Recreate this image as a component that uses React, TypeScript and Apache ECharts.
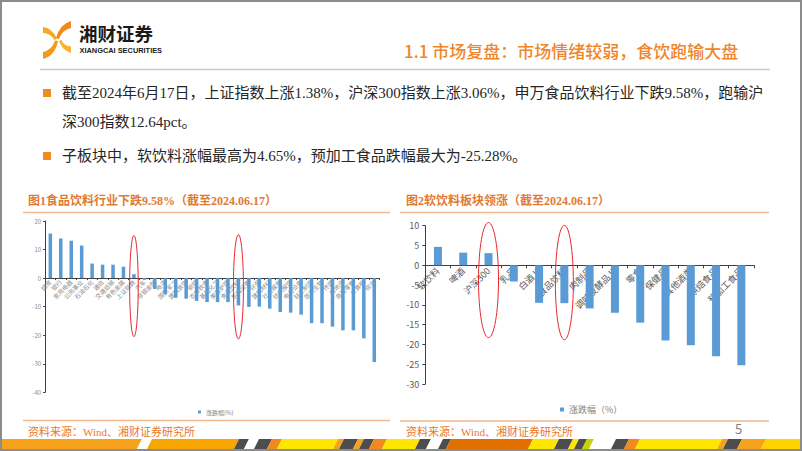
import React, { useEffect, useRef } from "react";
import * as echarts from "echarts";

// ---------- data ----------
const industryNames = [
  "煤炭", "银行", "家用电器", "公用事业", "石油石化", "通信", "交通运输", "有色金属",
  "上证指数", "汽车", "非银金融", "电子", "国防军工", "建筑装饰", "钢铁", "农林牧渔",
  "基础化工", "美容护理", "食品饮料", "机械设备", "环保", "建筑材料", "社会服务", "纺织服饰",
  "电力设备", "轻工制造", "医药生物", "传媒", "房地产", "商贸零售", "计算机", "综合",
];
const industryValues = [
  15.6, 13.9, 13.1, 11.4, 5.1, 4.7, 4.7, 4.0,
  1.38, -0.6, -3.8, -5.7, -6.9, -7.2, -8.0, -8.4,
  -8.4, -8.4, -9.58, -10.1, -10.0, -10.7, -11.9, -12.1,
  -12.8, -15.8, -15.8, -17.0, -18.3, -18.3, -21.1, -29.4,
];
const subNames = [
  "软饮料", "啤酒", "沪深300", "乳品", "白酒Ⅱ", "食品饮料", "肉制品",
  "调味发酵品Ⅱ", "零食", "保健品", "其他酒类", "烘焙食品", "预加工食品",
];
const subValues = [4.65, 3.2, 3.06, -4.1, -9.5, -9.58, -10.9, -12.0, -14.5, -19.0, -20.2, -23.0, -25.28];

const chart1Axis = { min: -40, max: 20, interval: 10 };
const chart2Axis = { min: -30, max: 10, interval: 5 };
const chart1Highlights = [8, 18];
const chart2Highlights = [2, 5];

const bulletLines = [
  "截至2024年6月17日，上证指数上涨1.38%，沪深300指数上涨3.06%，申万食品饮料行业下跌9.58%，跑输沪",
  "深300指数12.64pct。",
  "子板块中，软饮料涨幅最高为4.65%，预加工食品跌幅最大为-25.28%。",
];

// ---------- logo shapes ----------
echarts.graphic.registerShape("petalTL", echarts.graphic.extendPath("M43 27 Q52 28 57 38.5 L54.5 40 Q50 33 43 33 Z", {}));
echarts.graphic.registerShape("petalTR", echarts.graphic.extendPath("M71 21 L71 28 Q62 30 59 39 L56 38 Q60 24 71 21 Z", {}));
echarts.graphic.registerShape("petalBL", echarts.graphic.extendPath("M43 59 L43 52 Q52 50 55 40.5 L58 41 Q55 56 43 59 Z", {}));
echarts.graphic.registerShape("petalBR", echarts.graphic.extendPath("M59 41 Q62 50 71 53 L71 46.5 Q64 46 61.5 40 Z", {}));

const G1 = { left: 45.1, top: 221, width: 334.4, height: 171.3 };
const G2 = { left: 425.3, top: 225.7, width: 328.7, height: 158.3 };

// distance from grid bottom up to the zero line (moves the category axis with its labels)
const zeroOffset = (g: any, axis: any) => -(g.height * (0 - axis.min)) / (axis.max - axis.min);

const CJK = "'Noto Sans CJK SC', 'Noto Sans', sans-serif";
const SERIF = "'Liberation Serif', 'Noto Sans CJK SC', serif";

function stripeBand() {
  const stripes: [number, number, string][] = [
    [-10, 136, "#F6A31B"], [136, 146, "#FFFFFF"], [146, 233, "#F7A600"], [233, 243, "#4D4D4D"],
    [243, 253, "#FFFFFF"], [253, 266, "#4D4D4D"], [266, 276, "#F08A1C"], [276, 332, "#FFE500"],
    [332, 338, "#F6A31B"], [338, 352, "#4D4D4D"], [352, 358, "#F6A31B"], [358, 368, "#4D4D4D"],
    [368, 381, "#F08A1C"], [381, 414, "#FFE500"], [414, 425, "#4D4D4D"], [425, 437, "#FFFFFF"],
    [437, 445, "#4D4D4D"], [445, 527, "#E06F00"], [527, 553, "#FFE500"], [553, 567, "#4D4D4D"],
    [567, 573, "#FFE500"], [573, 581, "#4D4D4D"], [581, 588, "#C8D400"], [588, 610, "#FFFFFF"],
    [610, 623, "#4D4D4D"], [623, 634, "#F08A1C"], [634, 716, "#FFE500"], [716, 722, "#F6A31B"],
    [722, 736, "#4D4D4D"], [736, 760, "#F6A31B"], [760, 812, "#FFD200"],
  ];
  const top = 439, bot = 451, sk = 6;
  return stripes.map(([a, b, c]) => ({
    type: "polygon",
    shape: { points: [[a + sk, top], [b + sk, top], [b, bot], [a, bot]] },
    style: { fill: c },
    silent: true,
  }));
}

function ellipseAt(g: any, n: number, idx: number, axis: any, vTop: number, vBot: number, rx: number) {
  const cx = g.left + ((idx + 0.5) * g.width) / n;
  const toY = (v: number) => g.top + ((axis.max - v) / (axis.max - axis.min)) * g.height;
  const y1 = toY(vTop), y2 = toY(vBot);
  return {
    type: "ellipse",
    shape: { cx, cy: (y1 + y2) / 2, rx, ry: (y2 - y1) / 2 },
    style: { fill: "none", stroke: "#E8282B", lineWidth: 1 },
    z: 100,
  };
}

export default function App() {
  const ref = useRef<HTMLDivElement>(null);
  useEffect(() => {
    const chart = echarts.init(ref.current!, null, { renderer: "svg" });
    const graphics: any[] = [
      { type: "rect", shape: { x: 1, y: 1, width: 800, height: 449 }, style: { fill: "none", stroke: "#8C8C8C", lineWidth: 2 }, z: 200 },
      { type: "petalTL", style: { fill: "#F7A823" } },
      { type: "petalTR", style: { fill: "#F08A1C" } },
      { type: "petalBL", style: { fill: "#F39A1E" } },
      { type: "petalBR", style: { fill: "#F9B233" } },
      { type: "text", x: 79, y: 32.5, style: { text: "湘财证券", fontSize: 18.5, fontWeight: "bold", fontFamily: CJK, fill: "#1A1A1A", verticalAlign: "middle" } },
      { type: "text", x: 79.5, y: 50, style: { text: "XIANGCAI SECURITIES", fontSize: 7.4, fontWeight: "bold", fontFamily: "'Liberation Sans', Arial, sans-serif", fill: "#1A1A1A", verticalAlign: "middle" } },
      { type: "line", shape: { x1: 40, y1: 69.5, x2: 770, y2: 69.5 }, style: { stroke: "#C8C8C8", lineWidth: 1.5 } },
      { type: "text", x: 404, y: 50, style: { text: "1.1 市场复盘：市场情绪较弱，食饮跑输大盘", fontSize: 17, fontWeight: 500, fontFamily: CJK, fill: "#F0862A", verticalAlign: "middle" } },
      { type: "rect", shape: { x: 43, y: 89, width: 8, height: 8 }, style: { fill: "#F08A24" } },
      { type: "text", x: 62, y: 93, style: { text: bulletLines[0], fontSize: 15, fontFamily: SERIF, fill: "#262626", verticalAlign: "middle" } },
      { type: "text", x: 62, y: 122, style: { text: bulletLines[1], fontSize: 15, fontFamily: SERIF, fill: "#262626", verticalAlign: "middle" } },
      { type: "rect", shape: { x: 43, y: 152, width: 8, height: 8 }, style: { fill: "#F08A24" } },
      { type: "text", x: 62, y: 156, style: { text: bulletLines[2], fontSize: 15, fontFamily: SERIF, fill: "#262626", verticalAlign: "middle" } },
      { type: "text", x: 28, y: 201, style: { text: "图1食品饮料行业下跌9.58%（截至2024.06.17）", fontSize: 12, fontWeight: "bold", fontFamily: SERIF, fill: "#DF7A35", verticalAlign: "middle" } },
      { type: "line", shape: { x1: 23, y1: 212.5, x2: 390, y2: 212.5 }, style: { stroke: "#F2B98F", lineWidth: 1.5 } },
      { type: "text", x: 406, y: 201, style: { text: "图2软饮料板块领涨（截至2024.06.17）", fontSize: 12, fontWeight: "bold", fontFamily: SERIF, fill: "#DF7A35", verticalAlign: "middle" } },
      { type: "line", shape: { x1: 400, y1: 212.5, x2: 769, y2: 212.5 }, style: { stroke: "#F2B98F", lineWidth: 1.5 } },
      { type: "line", shape: { x1: 23, y1: 420.5, x2: 390, y2: 420.5 }, style: { stroke: "#F2B98F", lineWidth: 1.5 } },
      { type: "line", shape: { x1: 400, y1: 421, x2: 769, y2: 421 }, style: { stroke: "#F2B98F", lineWidth: 1.5 } },
      { type: "text", x: 28, y: 432, style: { text: "资料来源：Wind、湘财证券研究所", fontSize: 11, fontFamily: SERIF, fill: "#E8772A", verticalAlign: "middle" } },
      { type: "text", x: 406, y: 432, style: { text: "资料来源：Wind、湘财证券研究所", fontSize: 11, fontFamily: SERIF, fill: "#E8772A", verticalAlign: "middle" } },
      { type: "text", x: 735, y: 428, style: { text: "5", fontSize: 13, fontFamily: CJK, fill: "#7F7F7F", verticalAlign: "middle" } },
      ...stripeBand(),
      ellipseAt(G1, industryNames.length, chart1Highlights[0], chart1Axis, 14.9, -20.5, 4.3),
      ellipseAt(G1, industryNames.length, chart1Highlights[1], chart1Axis, 15.2, -21.3, 5),
      ellipseAt(G2, subNames.length, chart2Highlights[0], chart2Axis, 10.8, -18.3, 10),
      ellipseAt(G2, subNames.length, chart2Highlights[1], chart2Axis, 10.1, -18.8, 9),
    ];

    const option: any = {
      animation: false,
      backgroundColor: "#FFFFFF",
      grid: [
        { ...G1, containLabel: false },
        { ...G2, containLabel: false },
      ],
      legend: [
        {
          data: ["涨跌幅(%)"], left: 193, top: 404, itemWidth: 3, itemHeight: 3, itemGap: 2,
          icon: "rect", textStyle: { fontSize: 6, color: "#7F7F7F", fontFamily: CJK },
        },
        {
          data: ["涨跌幅（%）"], left: 555, top: 400, itemWidth: 4, itemHeight: 4, itemGap: 3,
          icon: "rect", textStyle: { fontSize: 9, color: "#7F7F7F", fontFamily: CJK },
        },
      ],
      xAxis: [
        {
          type: "category", gridIndex: 0, data: industryNames,
          offset: zeroOffset(G1, chart1Axis),
          axisLine: { onZero: false, lineStyle: { color: "#404040", width: 1 } },
          axisTick: { show: true, length: 2, lineStyle: { color: "#404040" } },
          axisLabel: { interval: 0, rotate: 45, fontSize: 6, color: "#8C8C8C", margin: 3, fontFamily: CJK },
        },
        {
          type: "category", gridIndex: 1, data: subNames,
          offset: zeroOffset(G2, chart2Axis),
          axisLine: { onZero: false, lineStyle: { color: "#404040", width: 1 } },
          axisTick: { show: true, length: 3, lineStyle: { color: "#404040" } },
          axisLabel: { interval: 0, rotate: 45, fontSize: 9, color: "#595959", margin: 4, fontFamily: CJK },
        },
      ],
      yAxis: [
        {
          type: "value", gridIndex: 0, ...chart1Axis,
          splitLine: { show: false },
          axisLine: { show: true, lineStyle: { color: "#404040" } },
          axisTick: { show: true, length: 2, lineStyle: { color: "#404040" } },
          axisLabel: { fontSize: 6, color: "#8C8C8C", margin: 4, fontFamily: CJK },
        },
        {
          type: "value", gridIndex: 1, ...chart2Axis,
          splitLine: { show: false },
          axisLine: { show: true, lineStyle: { color: "#404040" } },
          axisTick: { show: true, length: 3, lineStyle: { color: "#404040" } },
          axisLabel: { fontSize: 9, color: "#595959", margin: 6, fontFamily: CJK },
        },
      ],
      series: [
        {
          name: "涨跌幅(%)", type: "bar", xAxisIndex: 0, yAxisIndex: 0,
          data: industryValues, barWidth: 3.5, itemStyle: { color: "#5B9BD5" },
        },
        {
          name: "涨跌幅（%）", type: "bar", xAxisIndex: 1, yAxisIndex: 1,
          data: subValues, barWidth: 8, itemStyle: { color: "#5B9BD5" },
        },
      ],
      graphic: graphics,
    };
    chart.setOption(option);
    return () => chart.dispose();
  }, []);
  return (
    <div
      ref={ref}
      style={{ position: "fixed", left: 0, top: 0, width: 802, height: 451, background: "#fff" }}
    />
  );
}
